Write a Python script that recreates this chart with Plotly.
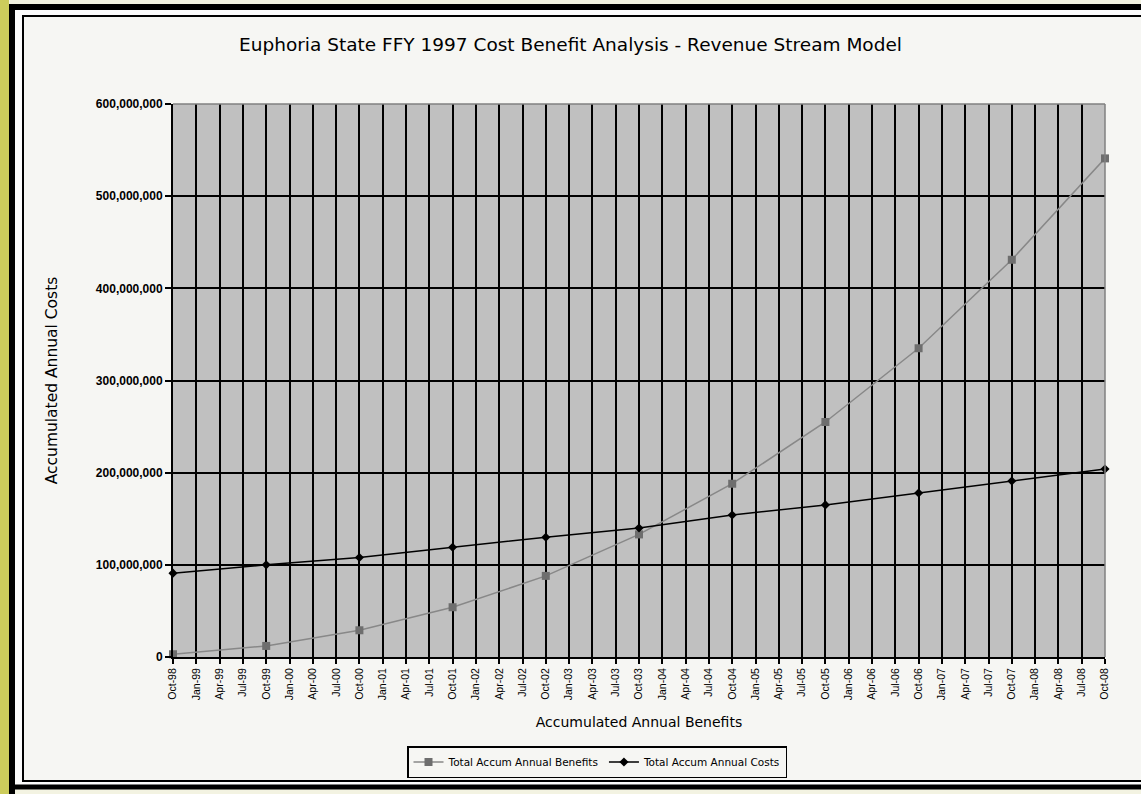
import plotly.graph_objects as go

# Quarterly category labels along the x axis
quarter_labels = [
    "Oct-98", "Jan-99", "Apr-99", "Jul-99",
    "Oct-99", "Jan-00", "Apr-00", "Jul-00",
    "Oct-00", "Jan-01", "Apr-01", "Jul-01",
    "Oct-01", "Jan-02", "Apr-02", "Jul-02",
    "Oct-02", "Jan-03", "Apr-03", "Jul-03",
    "Oct-03", "Jan-04", "Apr-04", "Jul-04",
    "Oct-04", "Jan-05", "Apr-05", "Jul-05",
    "Oct-05", "Jan-06", "Apr-06", "Jul-06",
    "Oct-06", "Jan-07", "Apr-07", "Jul-07",
    "Oct-07", "Jan-08", "Apr-08", "Jul-08",
    "Oct-08",
]

# Annual data points (each October)
annual_points = [
    "Oct-98", "Oct-99", "Oct-00", "Oct-01", "Oct-02", "Oct-03",
    "Oct-04", "Oct-05", "Oct-06", "Oct-07", "Oct-08",
]
total_benefits = [3e6, 12e6, 29e6, 54e6, 88e6, 133e6,
                  188e6, 255e6, 335e6, 431e6, 541e6]
total_costs = [91e6, 100e6, 108e6, 119e6, 130e6, 140e6,
               154e6, 165e6, 178e6, 191e6, 204e6]

y_ticks = [0, 100e6, 200e6, 300e6, 400e6, 500e6, 600e6]

W, H = 1141, 794
L, R, T, B = 173, 1105, 104, 657


def px(x):
    return (x - L) / (R - L)


def py(y):
    return (B - y) / (B - T)


FONT = "Liberation Sans, Arial, sans-serif"
WIDE = "DejaVu Sans, sans-serif"

fig = go.Figure()

fig.add_trace(go.Scatter(
    x=annual_points, y=total_benefits, mode="lines+markers",
    name="Total Accum Annual Benefits",
    line=dict(color="#888888", width=1.5),
    marker=dict(symbol="square", size=8, color="#6e6e6e"),
    cliponaxis=False,
))
fig.add_trace(go.Scatter(
    x=annual_points, y=total_costs, mode="lines+markers",
    name="Total Accum Annual Costs",
    line=dict(color="#000000", width=1.5),
    marker=dict(symbol="diamond", size=7, color="#000000"),
    cliponaxis=False,
))

shapes = [
    # olive strip on the left
    dict(type="rect", xref="paper", yref="paper", layer="below",
         x0=px(0), x1=px(9), y0=py(0), y1=py(H),
         fillcolor="#cccc5c", line=dict(width=0)),
    # white field inside the heavy frame
    dict(type="rect", xref="paper", yref="paper", layer="below",
         x0=px(12), x1=px(1160), y0=py(7), y1=py(787),
         fillcolor="#fbfbfb", line=dict(width=0)),
    # heavy black frame: left, top, bottom bars
    dict(type="line", xref="paper", yref="paper", layer="below",
         x0=px(12), x1=px(12), y0=py(4), y1=py(H),
         line=dict(color="#000000", width=6)),
    dict(type="line", xref="paper", yref="paper", layer="below",
         x0=px(9), x1=px(1160), y0=py(7), y1=py(7),
         line=dict(color="#000000", width=6)),
    dict(type="line", xref="paper", yref="paper", layer="below",
         x0=px(9), x1=px(1160), y0=py(787), y1=py(787),
         line=dict(color="#000000", width=5)),
    # chart area: off-white fill with thin border on left, top, bottom
    dict(type="rect", xref="paper", yref="paper", layer="below",
         x0=px(23), x1=px(1160), y0=py(16), y1=py(781),
         fillcolor="#f6f6f3", line=dict(width=0)),
    dict(type="path", xref="paper", yref="paper", layer="below",
         path=(f"M {px(1160)},{py(16)} L {px(23)},{py(16)} "
               f"L {px(23)},{py(781)} L {px(1160)},{py(781)}"),
         line=dict(color="#000000", width=2)),
    # grey plot area
    dict(type="rect", xref="paper", yref="paper", layer="below",
         x0=0, x1=1, y0=0, y1=1,
         fillcolor="#c0c0c0", line=dict(width=0)),
    # top and right edges of the plot area
    dict(type="line", xref="paper", yref="paper", layer="above",
         x0=0, x1=1, y0=1, y1=1, line=dict(color="#808080", width=1.5)),
    dict(type="line", xref="paper", yref="paper", layer="above",
         x0=1, x1=1, y0=0, y1=1, line=dict(color="#808080", width=1.5)),
]

fig.update_layout(
    width=W, height=H,
    margin=dict(l=L, r=W - R, t=T, b=H - B),
    paper_bgcolor="#f3f3e2",
    plot_bgcolor="#c0c0c0",
    shapes=shapes,
    font=dict(family=FONT, color="#000000"),
    title=dict(
        text="Euphoria State FFY 1997 Cost Benefit Analysis - Revenue Stream Model",
        x=0.5, xref="container", xanchor="center",
        y=1 - 45 / H, yref="container", yanchor="middle",
        font=dict(family=WIDE, size=18.5, color="#000000"),
    ),
    showlegend=True,
    legend=dict(
        orientation="h",
        x=px(597), y=py(762), xanchor="center", yanchor="middle",
        bgcolor="#f6f6f3", bordercolor="#000000", borderwidth=1.5,
        font=dict(family=WIDE, size=10.5, color="#000000"),
        itemwidth=30, tracegroupgap=0,
    ),
)

fig.update_xaxes(
    type="category",
    categoryorder="array", categoryarray=quarter_labels,
    tickmode="array", tickvals=quarter_labels, ticktext=quarter_labels,
    range=[0, len(quarter_labels) - 1],
    tickangle=-90,
    tickfont=dict(family=FONT, size=10.5, color="#000000"),
    ticks="outside", ticklen=5, tickcolor="#000000", tickwidth=1.5,
    showgrid=True, gridcolor="#000000", gridwidth=1.5,
    showline=True, linecolor="#000000", linewidth=2,
    zeroline=False,
    title=dict(text="Accumulated Annual Benefits", standoff=18,
               font=dict(family=WIDE, size=14, color="#000000")),
)

fig.update_yaxes(
    range=[0, 600e6],
    tickmode="array", tickvals=y_ticks,
    tickformat=",d",
    tickfont=dict(family=FONT, size=12, color="#000000", weight="bold"),
    ticks="outside", ticklen=6, tickcolor="#000000", tickwidth=1.5,
    showgrid=True, gridcolor="#000000", gridwidth=1.5,
    showline=True, linecolor="#000000", linewidth=2,
    zeroline=False,
    title=dict(text="Accumulated Annual Costs", standoff=34,
               font=dict(family=WIDE, size=15.5, color="#000000")),
)

# keep the page from showing scrollbars beside the fixed-size figure
fig.write_html(
    "out.html",
    post_script=(
        "document.documentElement.style.overflow='hidden';"
        "document.body.style.overflow='hidden';"
        "document.body.style.margin='0';"
    ),
)
